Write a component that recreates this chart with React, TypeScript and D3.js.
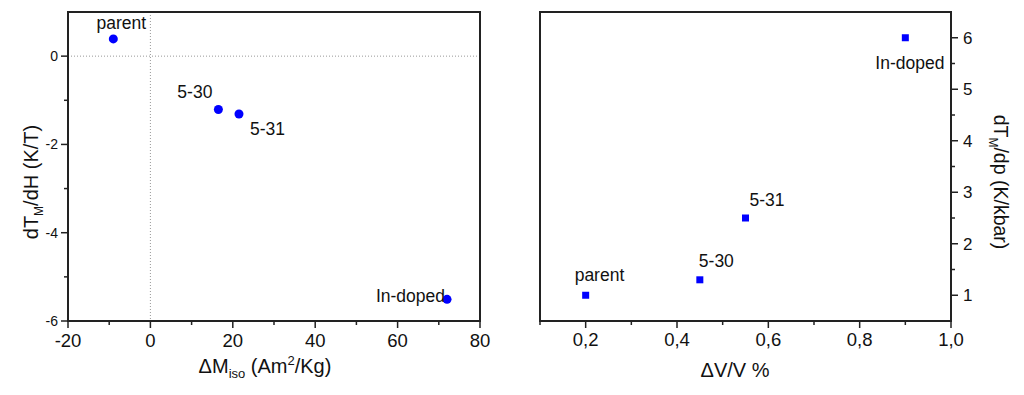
import * as d3 from "d3";

// sample names shared by both panels
const samples = ["parent", "5-30", "5-31", "In-doped"];

// left panel: dTM/dH against ΔM_iso
const deltaM = [-9, 16.5, 21.5, 72];
const dTdH = [0.39, -1.21, -1.31, -5.51];

// right panel: dTM/dp against ΔV/V
const deltaV = [0.2, 0.45, 0.55, 0.9];
const dTdp = [1.0, 1.3, 2.5, 6.0];

const leftXTicks = [-20, 0, 20, 40, 60, 80];
const leftXMinor = [-10, 10, 30, 50, 70];
const leftYTicks = [0, -2, -4, -6];
const leftYMinor = [-1, -3, -5];
const rightXTicks = [0.2, 0.4, 0.6, 0.8, 1.0];
const rightXMinor = [0.1, 0.3, 0.5, 0.7, 0.9];
const rightYTicks = [1, 2, 3, 4, 5, 6];
const rightYMinor = [1.5, 2.5, 3.5, 4.5, 5.5];

// label offsets from each point (px)
const leftLabelPos: [number, number, string][] = [
  [8, -10, "middle"],
  [-6, -12, "end"],
  [11, 21, "start"],
  [-2, 3, "end"],
];
const rightLabelPos: [number, number, string][] = [
  [-11, -14, "start"],
  [-1, -13, "start"],
  [4, -12, "start"],
  [-30, 31, "start"],
];

const W = 1024;
const H = 395;
const TOP = 12;
const BOTTOM = 321;
const FONT = "'Liberation Sans', Arial, Helvetica, sans-serif";
const AXIS = "#222";
const BLUE = "#0000ff";

export default function App() {
  const xL = d3.scaleLinear().domain([-20, 80]).range([68, 480]);
  const yL = d3.scaleLinear().domain([-6, 1]).range([BOTTOM, TOP]);
  const xR = d3.scaleLinear().domain([0.1, 1.0]).range([540, 951]);
  const yR = d3.scaleLinear().domain([0.5, 6.5]).range([BOTTOM, TOP]);
  const comma = (v: number) => d3.format(".1f")(v).replace(".", ",");

  return (
    <svg
      width={W}
      height={H}
      style={{ position: "absolute", left: 0, top: 0, background: "#fff" }}
      fontFamily={FONT}
    >
      <rect width={W} height={H} fill="#fff" />

      {/* ---------- left panel ---------- */}
      <line x1={xL(0)} x2={xL(0)} y1={TOP} y2={BOTTOM} stroke="#999" strokeDasharray="1,2" />
      <line x1={xL(-20)} x2={xL(80)} y1={yL(0)} y2={yL(0)} stroke="#999" strokeDasharray="1,2" />
      <rect x={68} y={TOP} width={480 - 68} height={BOTTOM - TOP} fill="none" stroke={AXIS} strokeWidth={2} />

      {leftXTicks.map((t) => (
        <g key={"lx" + t}>
          <line x1={xL(t)} x2={xL(t)} y1={BOTTOM} y2={BOTTOM + 7} stroke={AXIS} strokeWidth={1.5} />
          <text x={xL(t)} y={347} fontSize={18.5} textAnchor="middle" fill="#111">
            {t}
          </text>
        </g>
      ))}
      {leftXMinor.map((t) => (
        <line key={"lxm" + t} x1={xL(t)} x2={xL(t)} y1={BOTTOM} y2={BOTTOM + 4} stroke={AXIS} strokeWidth={1.5} />
      ))}
      {leftYTicks.map((t) => (
        <g key={"ly" + t}>
          <line x1={68 - 7} x2={68} y1={yL(t)} y2={yL(t)} stroke={AXIS} strokeWidth={1.5} />
          <text x={58} y={yL(t) + 5} fontSize={14} textAnchor="end" fill="#111">
            {t}
          </text>
        </g>
      ))}
      {leftYMinor.map((t) => (
        <line key={"lym" + t} x1={68 - 4} x2={68} y1={yL(t)} y2={yL(t)} stroke={AXIS} strokeWidth={1.5} />
      ))}

      <text x={265} y={373} fontSize={20} textAnchor="middle" fill="#111">
        ΔM
        <tspan fontSize={13} dy={5}>iso</tspan>
        <tspan dy={-5}> (Am</tspan>
        <tspan fontSize={13} dy={-8}>2</tspan>
        <tspan dy={8}>/Kg)</tspan>
      </text>
      <text transform="translate(38,182) rotate(-90)" fontSize={20} textAnchor="middle" fill="#111">
        dT
        <tspan fontSize={12} dy={5}>M</tspan>
        <tspan dy={-5}>/dH (K/T)</tspan>
      </text>

      {samples.map((s, i) => (
        <g key={"lp" + s}>
          <circle cx={xL(deltaM[i])} cy={yL(dTdH[i])} r={4.5} fill={BLUE} />
          <text
            x={xL(deltaM[i]) + leftLabelPos[i][0]}
            y={yL(dTdH[i]) + leftLabelPos[i][1]}
            textAnchor={leftLabelPos[i][2]}
            fontSize={17.5}
            fill="#111"
          >
            {s}
          </text>
        </g>
      ))}

      {/* ---------- right panel ---------- */}
      <rect x={540} y={TOP} width={951 - 540} height={BOTTOM - TOP} fill="none" stroke={AXIS} strokeWidth={2} />

      {rightXTicks.map((t) => (
        <g key={"rx" + t}>
          <line x1={xR(t)} x2={xR(t)} y1={BOTTOM} y2={BOTTOM + 7} stroke={AXIS} strokeWidth={1.5} />
          <text x={xR(t)} y={346} fontSize={18.5} textAnchor="middle" fill="#111">
            {comma(t)}
          </text>
        </g>
      ))}
      {rightXMinor.map((t) => (
        <line key={"rxm" + t} x1={xR(t)} x2={xR(t)} y1={BOTTOM} y2={BOTTOM + 4} stroke={AXIS} strokeWidth={1.5} />
      ))}
      {rightYTicks.map((t) => (
        <g key={"ry" + t}>
          <line x1={951} x2={951 + 7} y1={yR(t)} y2={yR(t)} stroke={AXIS} strokeWidth={1.5} />
          <text x={963} y={yR(t) + 6} fontSize={17} textAnchor="start" fill="#111">
            {t}
          </text>
        </g>
      ))}
      {rightYMinor.map((t) => (
        <line key={"rym" + t} x1={951} x2={951 + 4} y1={yR(t)} y2={yR(t)} stroke={AXIS} strokeWidth={1.5} />
      ))}

      <text x={735} y={377} fontSize={20} textAnchor="middle" fill="#111">
        ΔV/V %
      </text>
      <text transform="translate(994,182) rotate(90)" fontSize={19.5} textAnchor="middle" fill="#111">
        dT
        <tspan fontSize={12} dy={5}>M</tspan>
        <tspan dy={-5}>/dp (K/kbar)</tspan>
      </text>

      {samples.map((s, i) => (
        <g key={"rp" + s}>
          <rect x={xR(deltaV[i]) - 3.5} y={yR(dTdp[i]) - 3.5} width={7} height={7} fill={BLUE} />
          <text
            x={xR(deltaV[i]) + rightLabelPos[i][0]}
            y={yR(dTdp[i]) + rightLabelPos[i][1]}
            textAnchor={rightLabelPos[i][2]}
            fontSize={17.5}
            fill="#111"
          >
            {s}
          </text>
        </g>
      ))}
    </svg>
  );
}
